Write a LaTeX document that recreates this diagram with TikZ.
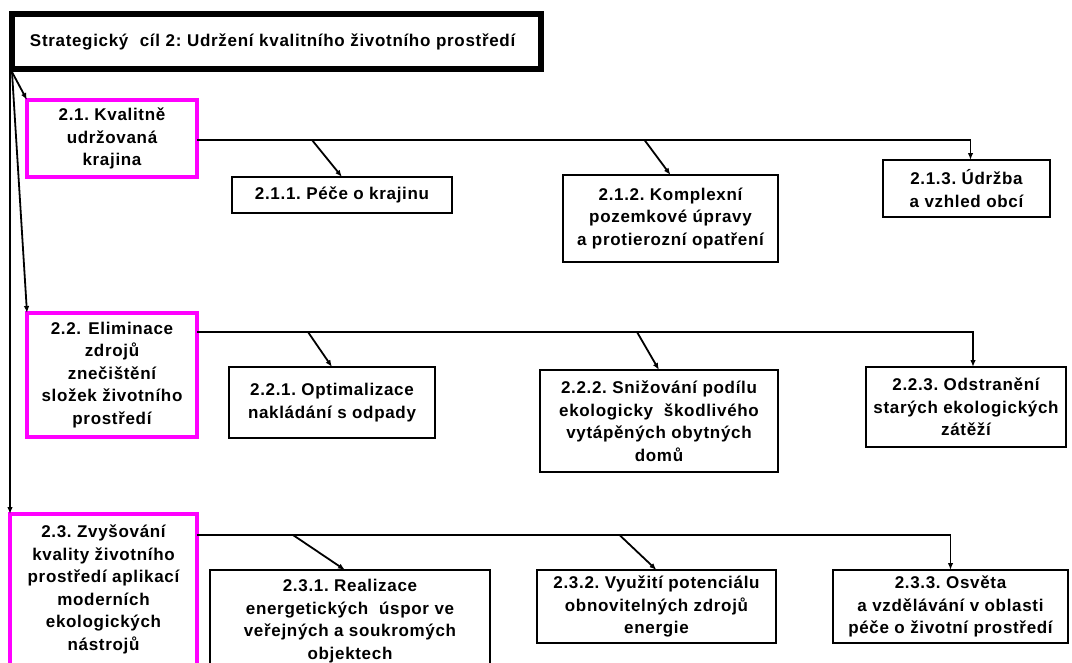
\documentclass[tikz,border=0pt]{standalone}
\usepackage{fontspec}
\setmainfont{Liberation Sans}[LetterSpace=4]
\usetikzlibrary{arrows.meta,calc}
\definecolor{mag}{RGB}{255,0,255}
\begin{document}
\begin{tikzpicture}[x=1pt,y=-1pt,
  txt/.style={font=\fontsize{17}{22.5}\selectfont\bfseries, align=center, inner sep=0pt, outer sep=0pt},
  bbox/.style={txt, draw=black, line width=2pt, minimum width=#1},
  mbox/.style={txt, draw=mag, line width=3.5pt, minimum width=#1},
  conn/.style={line width=1.8pt, black},
  arr/.style={conn, -{Latex[length=7pt,width=5.5pt]}}
]
\useasboundingbox (0,0) rectangle (1072,662);
\clip (0,0) rectangle (1072,662);

% title
\node[txt, draw=black, line width=6pt, minimum width=529pt, minimum height=55pt,
      text width=493pt, align=left] (t) at (276.5,41.5)
  {Strategický\ \ cíl 2:\ Udržení kvalitního\ životního prostředí};

% level 2 boxes
\node[mbox=170pt, minimum height=77pt] (b21) at (112,138.5) {2.1.\ Kvalitně\\udržovaná\\krajina};
\node[mbox=170pt, minimum height=124pt] (b22) at (112,375) {2.2. Eliminace\\zdrojů\\znečištění\\složek\ životního\\prostředí};
\node[mbox=187pt, minimum height=151pt] (b23) at (103.5,589.5) {2.3.\ Zvyšování\\kvality\ životního\\prostředí aplikací\\moderních\\ekologických\\nástrojů};

% level 3 boxes
\node[bbox=220pt, minimum height=36pt] (b211) at (342,195) {2.1.1.\ Péče\ o krajinu};
\node[bbox=215pt, minimum height=87pt] (b212) at (670.5,218.5) {2.1.2.\ Komplexní\\pozemkové úpravy\\a protierozní opatření};
\node[bbox=167pt, minimum height=57pt] (b213) at (966.5,188.5) {2.1.3.\ Údržba\\a vzhled obcí};

\node[bbox=206pt, minimum height=71pt] (b221) at (332,402.5) {2.2.1.\ Optimalizace\\nakládání\ s odpady};
\node[bbox=238pt, minimum height=102pt] (b222) at (659,421) {2.2.2.\ Snižování podílu\\ekologicky\ \ škodlivého\\vytápěných\ obytných\\domů};
\node[bbox=200pt, minimum height=80pt] (b223) at (966,407) {2.2.3.\ Odstranění\\starých\ ekologických\\zátěží};

\node[bbox=280pt, minimum height=102pt] (b231) at (350,621) {2.3.1.\ Realizace\\energetických\ \ úspor ve\\veřejných a soukromých\\objektech};
\node[bbox=239pt, minimum height=73pt] (b232) at (656.5,606.5) {2.3.2.\ Využití\ potenciálu\\obnovitelných zdrojů\\energie};
\node[bbox=235pt, minimum height=73pt] (b233) at (950.5,606.5) {2.3.3.\ Osvěta\\a vzdělávání v oblasti\\péče o životní prostředí};

% connectors from title
\draw[arr] (t.south west -| b23.north west) -- (b23.north west);
\coordinate (o) at ($(t.south west)+(0,3)$);
\draw[arr] (o) -- (b21.north west);
\draw[arr] (o) -- (b22.north west);

% row 1
\coordinate (r1) at ($(b21.east)+(0,1.5)$);
\draw[arr] (r1) -- ([xshift=4pt]b213.north |- r1) -- ([xshift=4pt]b213.north);
\coordinate (r1a) at ($(b211.north)+(-30,-37)$);
\coordinate (r1b) at ($(b212.north)+(-26,-35)$);
\draw[arr] (r1a) -- (b211.north);
\draw[arr] (r1b) -- (b212.north);

% row 2
\coordinate (r2) at ($(b22.north east)+(0,19)$);
\draw[arr] (r2) -- ([xshift=7pt]b223.north |- r2) -- ([xshift=7pt]b223.north);
\coordinate (r2a) at ($(b221.north)+(-24,-35)$);
\coordinate (r2b) at ($(b222.north)+(-22,-38)$);
\draw[arr] (r2a) -- (b221.north);
\draw[arr] (r2b) -- (b222.north);

% row 3
\coordinate (r3) at ($(b23.north east)+(0,21)$);
\draw[arr] (r3) -- (b233.north |- r3) -- (b233.north);
\coordinate (r3a) at ($(b231.north)+(-57,-35)$);
\coordinate (r3b) at ($(b232.north)+(-37,-35)$);
\draw[arr] (r3a) -- ([xshift=-5pt]b231.north);
\draw[arr] (r3b) -- (b232.north);
\end{tikzpicture}
\end{document}
